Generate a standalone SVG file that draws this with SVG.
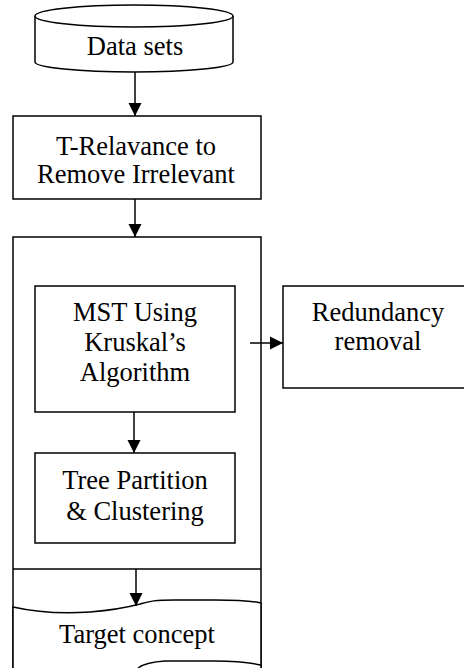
<svg xmlns="http://www.w3.org/2000/svg" width="464" height="668" viewBox="0 0 464 668">
<style>
.s{fill:#fff;stroke:#000;stroke-width:1.5}
.t{font-family:"Liberation Serif","Times New Roman",serif;font-size:26.5px;fill:#000;text-anchor:middle}
.c{fill:none;stroke:#000;stroke-width:1.5}
</style>
<defs>
<marker id="ah" markerUnits="userSpaceOnUse" markerWidth="14" markerHeight="14" viewBox="0 0 14 14" refX="13" refY="7" orient="auto">
<path d="M0,0.5 L13,7 L0,13.5 Z" fill="#000"/>
</marker>
</defs>
<rect width="464" height="668" fill="#fff"/>
<g id="outer">
<path class="s" d="M13,668 L13,237 L261,237 L261,668"/>
<line class="c" x1="13" y1="569" x2="261" y2="569"/>
</g>
<g id="datasets">
<path class="s" d="M35,16 L35,62 A99,10 0 0 0 233,62 L233,16"/>
<ellipse class="s" cx="134" cy="16" rx="99" ry="11"/>
<text class="t" x="135" y="55">Data sets</text>
</g>
<g id="trelevance">
<rect class="s" x="13" y="116" width="248" height="83"/>
<text class="t" x="136" y="155">T-Relavance to</text>
<text class="t" x="136" y="183">Remove Irrelevant</text>
</g>
<g id="mst">
<rect class="s" x="35" y="286" width="200" height="126"/>
<text class="t" x="135" y="321">MST Using</text>
<text class="t" x="135" y="351">Kruskal’s</text>
<text class="t" x="135" y="381">Algorithm</text>
</g>
<g id="redundancy">
<rect class="s" x="283" y="286" width="192" height="102"/>
<text class="t" x="378" y="321">Redundancy</text>
<text class="t" x="378" y="350">removal</text>
</g>
<g id="tree">
<rect class="s" x="35" y="453" width="200" height="90"/>
<text class="t" x="135" y="489">Tree Partition</text>
<text class="t" x="135" y="520">&amp; Clustering</text>
</g>
<g id="target">
<path class="s" d="M13,668 L13,607 C35,612 60,614 90,612 C115,610 125,608 140,604 C150,601 155,600 175,600 L215,600 C240,600 252,601 261,603 L261,668"/>
<path class="c" d="M138,668 C143,664 150,662 165,661 L215,661 C240,661 252,663 261,665"/>
<text class="t" x="137" y="643">Target concept</text>
</g>
<g id="connectors">
<line class="c" x1="135" y1="72" x2="135" y2="116" marker-end="url(#ah)"/>
<line class="c" x1="135" y1="199" x2="135" y2="237" marker-end="url(#ah)"/>
<line class="c" x1="134" y1="412" x2="134" y2="453" marker-end="url(#ah)"/>
<line class="c" x1="250" y1="343" x2="283" y2="343" marker-end="url(#ah)"/>
<line class="c" x1="136" y1="569" x2="136" y2="606" marker-end="url(#ah)"/>
</g>
</svg>
